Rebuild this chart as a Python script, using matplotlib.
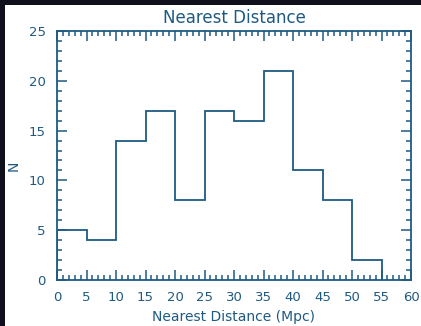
import matplotlib
matplotlib.use("Agg")
import matplotlib.pyplot as plt
from matplotlib.patches import Rectangle
from matplotlib.ticker import MultipleLocator

# histogram of nearest distances
bin_edges = [0, 5, 10, 15, 20, 25, 30, 35, 40, 45, 50, 55]
counts = [5, 4, 14, 17, 8, 17, 16, 21, 11, 8, 2]

title = "Nearest Distance"
xlabel = "Nearest Distance (Mpc)"
ylabel = "N"

col = "#1f5a82"
dark = "#10101c"

fig = plt.figure(figsize=(4.21, 3.26), dpi=100)
fig.patch.set_facecolor("white")
# dark strips along top and left edge
fig.add_artist(Rectangle((0, 1 - 5 / 326), 1, 5 / 326, transform=fig.transFigure,
                         facecolor=dark, edgecolor="none"))
fig.add_artist(Rectangle((0, 0), 5 / 421, 1, transform=fig.transFigure,
                         facecolor=dark, edgecolor="none"))

ax = fig.add_axes([57 / 421, 1 - 280 / 326, 354 / 421, 249 / 326])
ax.set_facecolor("white")

ax.stairs(counts, bin_edges, color=col, linewidth=1.3)

ax.set_xlim(0, 60)
ax.set_ylim(0, 25)
ax.xaxis.set_major_locator(MultipleLocator(5))
ax.xaxis.set_minor_locator(MultipleLocator(1))
ax.yaxis.set_major_locator(MultipleLocator(5))
ax.yaxis.set_minor_locator(MultipleLocator(1))
ax.tick_params(which="both", direction="in", top=True, right=True, colors=col,
               labelsize=9.5, width=1.1)
ax.tick_params(which="major", length=7, pad=8)
ax.tick_params(which="minor", length=3.5)
for s in ax.spines.values():
    s.set_color(col)
    s.set_linewidth(1.3)

ax.set_title(title, color=col, fontsize=12, pad=6)
ax.set_xlabel(xlabel, color=col, fontsize=10, labelpad=4)
ax.set_ylabel(ylabel, color=col, fontsize=10)
ax.yaxis.set_label_coords(-36 / 354, 0.46)

fig.savefig("out.png", dpi=100)
